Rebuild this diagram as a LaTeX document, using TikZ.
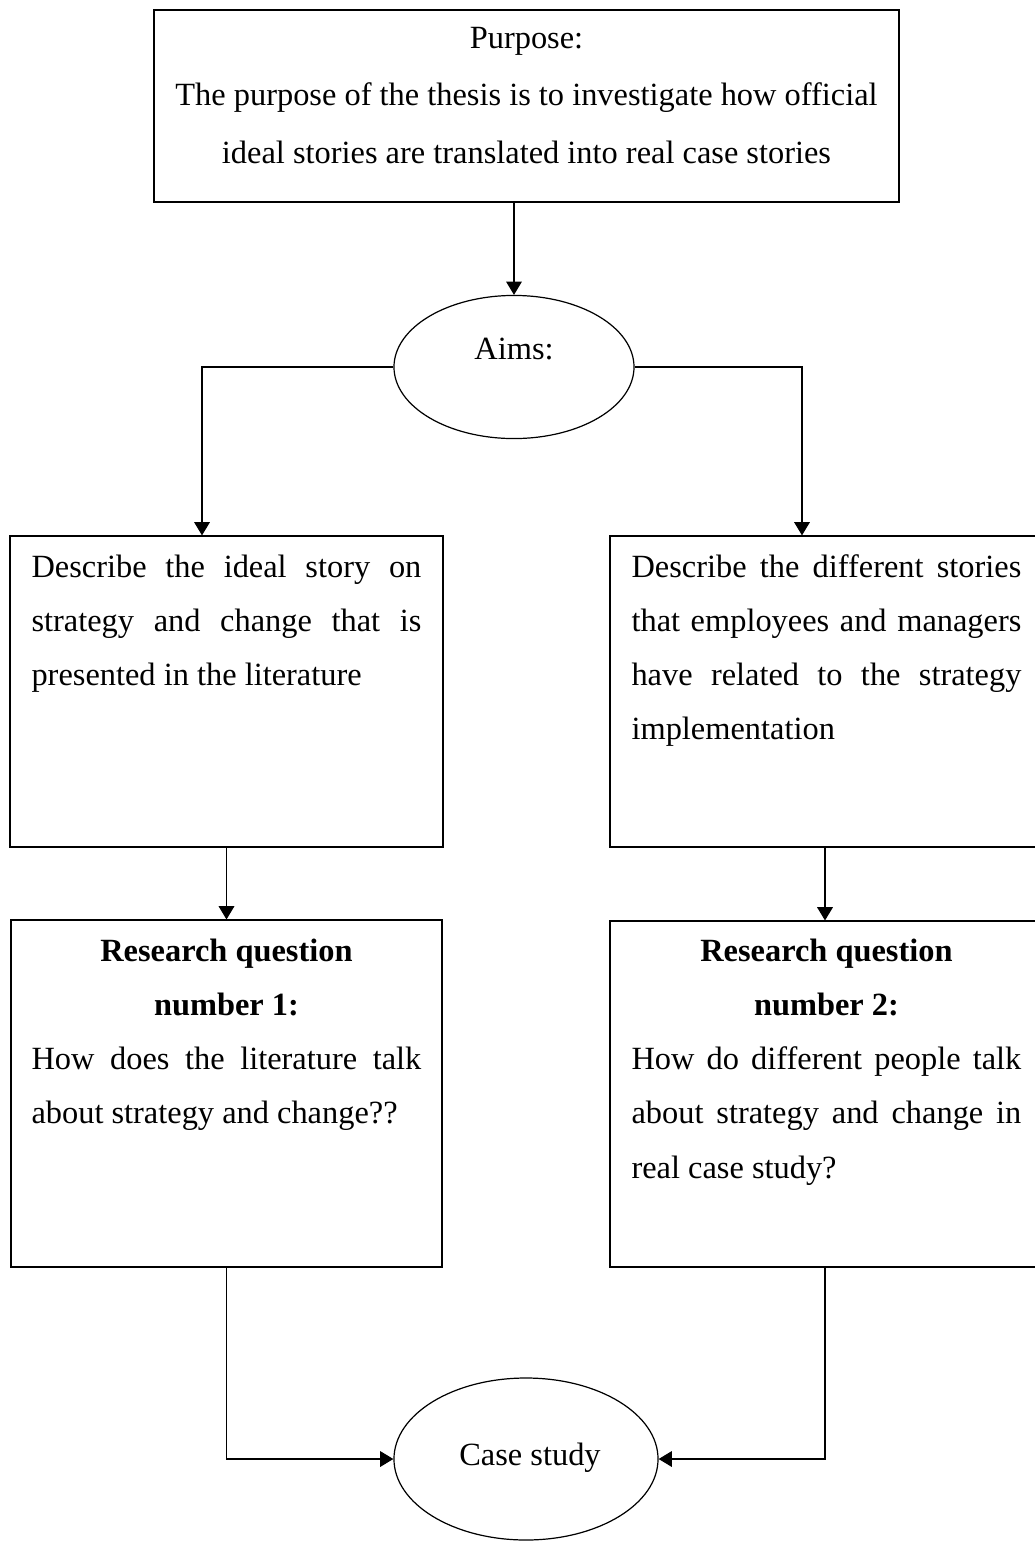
\documentclass[tikz,border=0pt]{standalone}
\usepackage{fontspec}
\setmainfont{Liberation Serif}
\usetikzlibrary{arrows.meta,shapes.geometric}
% stretch one line to the full text width (justified line)
\newcommand\fullline[1]{\makebox[\linewidth][s]{#1}}
\begin{document}
\begin{tikzpicture}[x=0.37037pt,y=-0.37037pt,
  box/.style={draw, line width=0.45pt, rectangle, inner sep=0pt},
  oval/.style={draw, line width=0.45pt, ellipse, inner sep=0pt},
  txt/.style={inner sep=0pt, font=\fontsize{12pt}{20.1pt}\selectfont},
  link/.style={line width=0.4pt, -{Triangle[length=4.9pt,width=5.8pt]}},
  plain/.style={line width=0.4pt}]
\useasboundingbox (0,0) rectangle (1034,1541);

% frames
\node[box, line width=0.6pt, minimum width=275.9pt, minimum height=71.1pt] (purpose) at (526.5,106) {};
\node[oval, minimum width=88.9pt, minimum height=53pt] (aims) at (514,367) {};
\node[box, minimum width=160.4pt, minimum height=115.2pt] (d1) at (226.5,691.5) {};
\node[box, minimum width=159.3pt, minimum height=115.2pt] (d2) at (825,691.5) {};
\node[box, minimum width=159.6pt, minimum height=128.5pt] (rq1) at (226.5,1093.5) {};
\node[box, minimum width=159.3pt, minimum height=128.1pt] (rq2) at (825,1094) {};
\node[oval, minimum width=97.8pt, minimum height=60pt] (case) at (526,1459) {};

% texts
\node[txt, anchor=base] (purposetext) at (526.5,48)
  {\parbox[t]{300pt}{\baselineskip=21.4pt\centering Purpose:\\
   The purpose of the thesis is to investigate how official\\
   ideal stories are translated into real case stories\par}};
\node[txt, anchor=base] (aimstext) at (514,359) {Aims:};
\node[txt, anchor=base west] (d1text) at (31,577)
  {\parbox[t]{144.4pt}{\fullline{Describe the ideal story on}\\
   \fullline{strategy and change that is}\\
   presented in the literature}};
\node[txt, anchor=base west] (d2text) at (631,577)
  {\parbox[t]{144.4pt}{\fullline{Describe the different stories}\\
   \fullline{that employees and managers}\\
   \fullline{have related to the strategy}\\
   implementation}};
\node[txt, anchor=base west] (rq1text) at (31,961)
  {\parbox[t]{144.4pt}{{\centering\bfseries Research question\\ number 1:\par}
   \fullline{How does the literature talk}\\
   about strategy and change??}};
\node[txt, anchor=base west] (rq2text) at (631,961)
  {\parbox[t]{144.4pt}{{\centering\bfseries Research question\\ number 2:\par}
   \fullline{How do different people talk}\\
   \fullline{about strategy and change in}\\
   real case study?}};
\node[txt, anchor=base] (casetext) at (530,1465) {Case study};

% connectors
\draw[link] (purpose.south -| aims.north) -- (aims.north);
\draw[link] (aims.west) -| ([xshift=-9.07pt]d1.north);
\draw[link] (aims.east) -| ([xshift=-8.52pt]d2.north);
\draw[link] (d1.south) -- (rq1.north);
\draw[link] (d2.south) -- (rq2.north);
\draw[link] (rq1.south) |- (case.west);
\draw[link] (rq2.south) |- (case.east);
\end{tikzpicture}
\end{document}
